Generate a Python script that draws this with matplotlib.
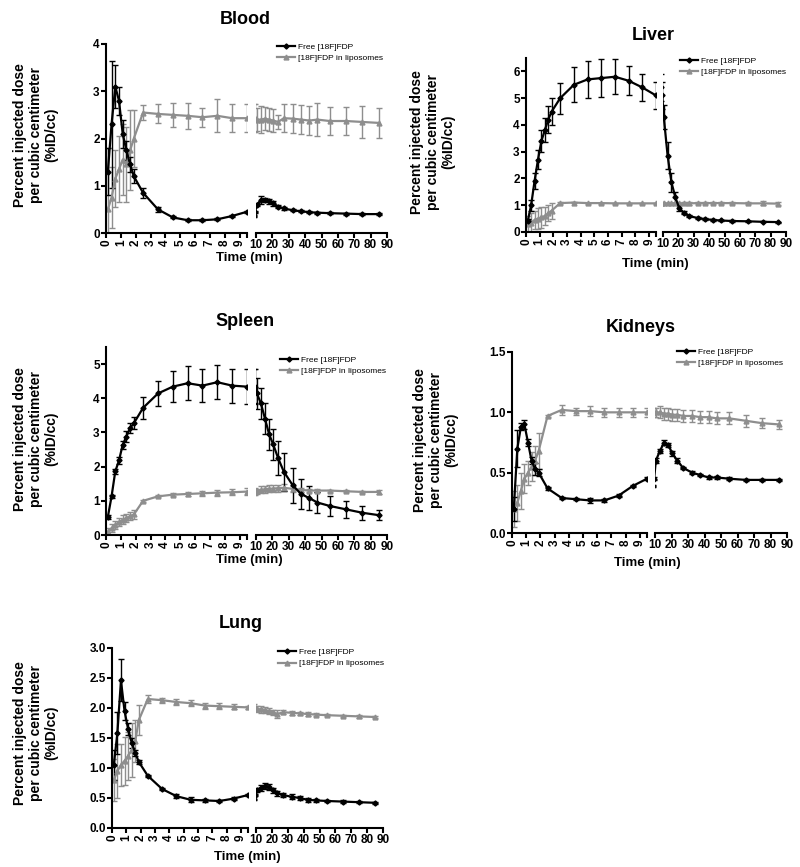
import matplotlib
matplotlib.use("Agg")
import matplotlib.pyplot as plt
from matplotlib.lines import Line2D

plt.rcParams['font.family'] = ['Liberation Sans', 'DejaVu Sans']
plt.rcParams['font.weight'] = 'bold'

# frame mid-times (min): 8 x 15 s, then 1 min frames, then longer frames
t_early = [0.125, 0.375, 0.625, 0.875, 1.125, 1.375, 1.625, 1.875,
           2.5, 3.5, 4.5, 5.5, 6.5, 7.5, 8.5, 9.5]
t_late = [10.5, 13, 15.5, 18, 20.5, 23.5, 27, 32.5, 37.5, 42.5, 47.5, 55, 65, 75, 85]
time = t_early + t_late

legend_labels = ['Free [18F]FDP', '[18F]FDP in liposomes']

# Blood
blood_free = [1.3, 2.3, 3.1, 2.8, 2.1, 1.75, 1.45, 1.2, 0.85, 0.5, 0.33, 0.27, 0.27, 0.29, 0.36, 0.45,
              0.6, 0.7, 0.7, 0.67, 0.63, 0.56, 0.52, 0.48, 0.46, 0.44, 0.43, 0.42, 0.41, 0.40, 0.40]
blood_free_err = [0.5, 1.35, 0.45, 0.3, 0.3, 0.2, 0.15, 0.15, 0.1, 0.05, 0.02, 0.02, 0.02, 0.02, 0.02, 0.02,
                  0.03, 0.08, 0.05, 0.05, 0.05, 0.04, 0.03, 0.02, 0.02, 0.02, 0.02, 0.02, 0.02, 0.02, 0.02]
blood_lipo = [0.5, 0.75, 1.15, 1.35, 1.55, 1.45, 1.75, 2.0, 2.55, 2.52, 2.5, 2.48, 2.45, 2.48, 2.43, 2.43,
              2.4, 2.4, 2.42, 2.4, 2.38, 2.35, 2.43, 2.42, 2.4, 2.38, 2.4, 2.37, 2.37, 2.35, 2.33]
blood_lipo_err = [1.3, 0.65, 0.6, 0.7, 0.75, 0.8, 0.85, 0.6, 0.15, 0.2, 0.25, 0.27, 0.2, 0.35, 0.3, 0.3,
                  0.25, 0.28, 0.25, 0.25, 0.25, 0.15, 0.3, 0.3, 0.3, 0.3, 0.35, 0.3, 0.3, 0.33, 0.32]

# Liver
liver_free = [0.4, 1.0, 1.9, 2.7, 3.4, 3.8, 4.2, 4.5, 5.0, 5.5, 5.7, 5.75, 5.8, 5.65, 5.4, 5.1,
              4.3, 2.85, 1.85, 1.3, 0.9, 0.72, 0.6, 0.52, 0.48, 0.45, 0.43, 0.41, 0.4, 0.38, 0.37]
liver_free_err = [0.1, 0.2, 0.3, 0.35, 0.4, 0.45, 0.5, 0.5, 0.58, 0.65, 0.68, 0.7, 0.65, 0.55, 0.5, 0.5,
                  0.45, 0.5, 0.35, 0.2, 0.1, 0.06, 0.05, 0.04, 0.03, 0.03, 0.03, 0.02, 0.02, 0.02, 0.02]
liver_lipo = [0.3, 0.35, 0.45, 0.5, 0.55, 0.6, 0.7, 0.8, 1.08, 1.1, 1.08, 1.08, 1.07, 1.07, 1.07, 1.07,
              1.07, 1.07, 1.07, 1.07, 1.07, 1.07, 1.07, 1.08, 1.08, 1.08, 1.08, 1.08, 1.07, 1.07, 1.06]
liver_lipo_err = [0.3, 0.35, 0.35, 0.4, 0.4, 0.35, 0.3, 0.3, 0.03, 0.03, 0.02, 0.02, 0.02, 0.02, 0.02, 0.02,
                  0.03, 0.03, 0.03, 0.03, 0.03, 0.04, 0.06, 0.03, 0.03, 0.03, 0.03, 0.03, 0.04, 0.07, 0.07]

# Spleen
spleen_free = [0.53, 1.13, 1.86, 2.18, 2.64, 2.88, 3.13, 3.27, 3.72, 4.14, 4.34, 4.44, 4.37, 4.47, 4.37, 4.34,
               4.15, 3.85, 3.4, 2.95, 2.65, 2.25, 1.85, 1.45, 1.2, 1.08, 0.95, 0.85, 0.75, 0.65, 0.58]
spleen_free_err = [0.05, 0.05, 0.07, 0.1, 0.12, 0.15, 0.15, 0.18, 0.32, 0.37, 0.45, 0.5, 0.48, 0.5, 0.5, 0.52,
                   0.45, 0.45, 0.45, 0.45, 0.45, 0.5, 0.55, 0.5, 0.45, 0.35, 0.32, 0.3, 0.25, 0.2, 0.15]
spleen_lipo = [0.1, 0.2, 0.3, 0.38, 0.45, 0.5, 0.55, 0.6, 1.0, 1.13, 1.18, 1.2, 1.22, 1.24, 1.25, 1.27,
               1.28, 1.32, 1.34, 1.35, 1.36, 1.37, 1.38, 1.35, 1.32, 1.3, 1.3, 1.3, 1.28, 1.26, 1.26]
spleen_lipo_err = [0.1, 0.12, 0.12, 0.12, 0.13, 0.12, 0.12, 0.12, 0.03, 0.03, 0.05, 0.07, 0.07, 0.09, 0.09, 0.1,
                   0.07, 0.1, 0.1, 0.1, 0.1, 0.1, 0.1, 0.08, 0.05, 0.05, 0.04, 0.03, 0.03, 0.03, 0.05]

# Kidneys
kidney_free = [0.2, 0.7, 0.88, 0.9, 0.75, 0.6, 0.53, 0.5, 0.37, 0.29, 0.28, 0.27, 0.27, 0.31, 0.39, 0.45,
               0.6, 0.68, 0.75, 0.73, 0.66, 0.6, 0.54, 0.5, 0.48, 0.46, 0.46, 0.45, 0.44, 0.44, 0.44]
kidney_free_err = [0.1, 0.15, 0.03, 0.04, 0.03, 0.03, 0.05, 0.03, 0.01, 0.01, 0.01, 0.02, 0.01, 0.01, 0.01, 0.01,
                   0.02, 0.02, 0.02, 0.02, 0.02, 0.02, 0.01, 0.01, 0.01, 0.01, 0.01, 0.01, 0.01, 0.01, 0.01]
kidney_lipo = [0.2, 0.25, 0.35, 0.45, 0.5, 0.55, 0.6, 0.68, 0.97, 1.02, 1.01, 1.01, 1.0, 1.0, 1.0, 1.0,
               1.0, 1.0, 0.99, 0.99, 0.98, 0.98, 0.97, 0.97, 0.96, 0.96, 0.95, 0.95, 0.93, 0.91, 0.9]
kidney_lipo_err = [0.15, 0.15, 0.15, 0.12, 0.1, 0.12, 0.12, 0.15, 0.01, 0.04, 0.03, 0.04, 0.04, 0.04, 0.04, 0.04,
                   0.04, 0.05, 0.05, 0.05, 0.05, 0.05, 0.05, 0.05, 0.05, 0.05, 0.05, 0.05, 0.05, 0.04, 0.04]

# Lung
lung_free = [1.05, 1.58, 2.46, 1.95, 1.65, 1.42, 1.25, 1.1, 0.87, 0.65, 0.53, 0.47, 0.46, 0.45, 0.49, 0.55,
             0.63, 0.67, 0.7, 0.68, 0.63, 0.58, 0.55, 0.52, 0.5, 0.47, 0.46, 0.45, 0.44, 0.43, 0.42]
lung_free_err = [0.25, 0.35, 0.35, 0.15, 0.1, 0.08, 0.05, 0.03, 0.02, 0.02, 0.03, 0.04, 0.02, 0.02, 0.02, 0.02,
                 0.03, 0.05, 0.05, 0.05, 0.04, 0.04, 0.04, 0.04, 0.03, 0.03, 0.03, 0.02, 0.02, 0.02, 0.02]
lung_lipo = [0.8, 0.95, 1.05, 1.12, 1.2, 1.3, 1.45, 1.8, 2.15, 2.13, 2.1, 2.08, 2.04, 2.03, 2.02, 2.01,
             1.98, 1.98, 1.97, 1.95, 1.93, 1.9, 1.93, 1.92, 1.91, 1.9, 1.89, 1.88, 1.87, 1.86, 1.85]
lung_lipo_err = [0.35, 0.45, 0.35, 0.4, 0.4, 0.45, 0.35, 0.25, 0.07, 0.04, 0.05, 0.05, 0.05, 0.05, 0.04, 0.03,
                 0.05, 0.06, 0.05, 0.05, 0.04, 0.06, 0.03, 0.03, 0.03, 0.03, 0.02, 0.02, 0.02, 0.02, 0.02]

W, H = 800, 867
GREY = '#8e8e8e'
fig = plt.figure(figsize=(8, 8.67), dpi=100)


def px_box(x0, x1, ytop, ybot):
    return [x0 / W, 1 - ybot / H, (x1 - x0) / W, (ybot - ytop) / H]


def series(ax, y, err, color, marker, ms):
    ax.errorbar(time, y, yerr=err, color=color, marker=marker, ms=ms, lw=1.6,
                elinewidth=1.0, capsize=2.5, capthick=1.0)


def panel(title, free, free_err, lipo, lipo_err, ymax, yticks, yfmt,
          xs, ytop, ybot, title_xy, ylab_xy, xlab_xy, leg_xy):
    x0, xb1, xb2, x1 = xs
    axl = fig.add_axes(px_box(x0, xb1, ytop, ybot))
    axr = fig.add_axes(px_box(xb2, x1, ytop, ybot))
    for ax in (axl, axr):
        series(ax, lipo, lipo_err, GREY, '^', 3.5)
        series(ax, free, free_err, 'black', 'D', 2.6)
        ax.set_ylim(0, ymax)
        for s in ('top', 'right'):
            ax.spines[s].set_visible(False)
        ax.spines['bottom'].set_linewidth(1.5)
        ax.spines['left'].set_linewidth(1.5)
        ax.tick_params(width=1.5, length=3.5, labelsize=8.5, pad=1)
    axl.set_xlim(0, 9.5)
    axl.set_xticks(list(range(10)) + [9.5])
    axl.set_xticklabels([str(i) for i in range(10)] + [''], rotation=90)
    axl.set_yticks(yticks)
    axl.set_yticklabels([yfmt.format(v) for v in yticks])
    axr.set_xlim(10, 90)
    axr.set_xticks(range(10, 91, 10))
    axr.spines['left'].set_visible(False)
    axr.tick_params(axis='y', left=False, labelleft=False)

    fig.text(title_xy[0] / W, 1 - title_xy[1] / H, title, fontsize=13,
             ha='center', va='center')
    fig.text(ylab_xy[0] / W, 1 - ylab_xy[1] / H,
             'Percent injected dose\nper cubic centimeter\n(%ID/cc)',
             fontsize=10, rotation=90, ha='center', va='center', linespacing=1.15)
    fig.text(xlab_xy[0] / W, 1 - xlab_xy[1] / H, 'Time (min)', fontsize=9.5,
             ha='center', va='center')
    handles = [Line2D([], [], color='black', marker='D', ms=2.6, lw=1.6),
               Line2D([], [], color=GREY, marker='^', ms=3.5, lw=1.6)]
    fig.legend(handles, legend_labels, loc='upper left',
               bbox_to_anchor=(leg_xy[0] / W, 1 - leg_xy[1] / H),
               frameon=False, prop={'size': 6, 'weight': 'normal'}, numpoints=1,
               handlelength=2.2, handletextpad=0.3, labelspacing=0.45,
               borderpad=0, borderaxespad=0)


panel('Blood', blood_free, blood_free_err, blood_lipo, blood_lipo_err,
      4, [0, 1, 2, 3, 4], '{:.0f}', (106, 247, 256, 387), 44, 233,
      (245, 19), (36, 135), (249, 258), (277, 43))
panel('Liver', liver_free, liver_free_err, liver_lipo, liver_lipo_err,
      6.5, [0, 1, 2, 3, 4, 5, 6], '{:.0f}', (526, 656, 663, 786), 58, 232,
      (653, 35), (433, 142), (655, 264), (680, 57))
panel('Spleen', spleen_free, spleen_free_err, spleen_lipo, spleen_lipo_err,
      5.5, [0, 1, 2, 3, 4, 5], '{:.0f}', (106, 247, 256, 387), 347, 535,
      (245, 322), (36, 439), (249, 560), (280, 356))
panel('Kidneys', kidney_free, kidney_free_err, kidney_lipo, kidney_lipo_err,
      1.5, [0, 0.5, 1.0, 1.5], '{:.1f}', (512, 647, 655, 787), 352, 533,
      (641, 327), (436, 440), (647, 563), (677, 348))
panel('Lung', lung_free, lung_free_err, lung_lipo, lung_lipo_err,
      3.0, [0, 0.5, 1.0, 1.5, 2.0, 2.5, 3.0], '{:.1f}', (112, 248, 256, 383), 648, 828,
      (241, 623), (36, 733), (247, 857), (278, 648))

fig.savefig('out.png', dpi=100, facecolor='white')
